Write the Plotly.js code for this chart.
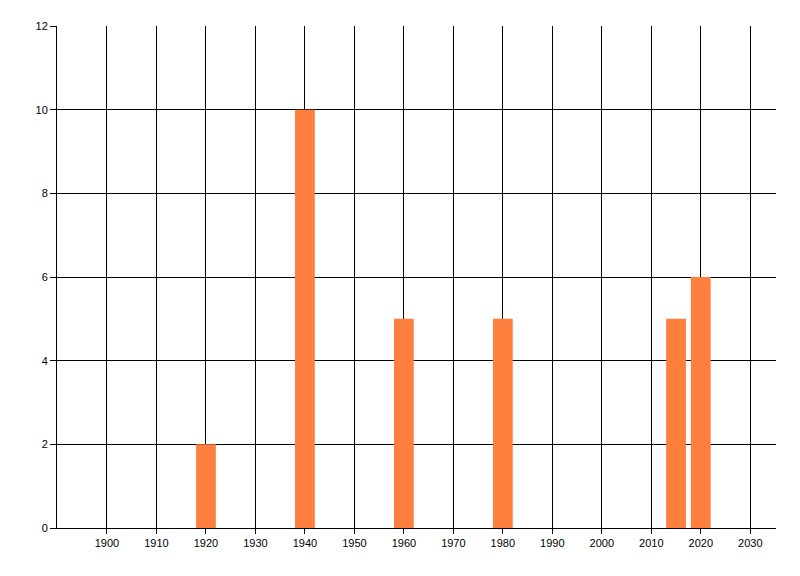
<!DOCTYPE html>
<html><head><meta charset="utf-8">
<script src="https://cdn.plot.ly/plotly-3.0.1.min.js"></script>
<style>html,body{margin:0;padding:0;background:#fff;}</style>
</head><body>
<div id="chart" style="width:800px;height:576px;"></div>
<script>
const years = [1920, 1940, 1960, 1980, 2015, 2020];
const counts = [2, 10, 5, 5, 5, 6];
const xTicks = [1900,1910,1920,1930,1940,1950,1960,1970,1980,1990,2000,2010,2020,2030];
const yTicks = [0,2,4,6,8,10,12];

Plotly.newPlot('chart', [{
  type: 'bar', x: years, y: counts, width: 4,
  marker: {color: '#FF7F3F', line: {width: 0}},
  hoverinfo: 'skip'
}], {
  width: 800, height: 576,
  margin: {l: 57, r: 24, t: 26, b: 48},
  paper_bgcolor: '#fff', plot_bgcolor: '#fff',
  showlegend: false,
  font: {family: 'Liberation Sans, Arial, sans-serif', size: 11, color: '#000'},
  xaxis: {
    range: [1889.9, 2035.2], tickvals: xTicks, ticktext: xTicks.map(String),
    tickfont: {color: '#000', size: 11},
    showgrid: true, gridcolor: '#000', gridwidth: 1,
    showline: true, linecolor: '#000', linewidth: 1,
    ticks: 'outside', ticklen: 5, tickcolor: '#000', zeroline: false
  },
  yaxis: {
    range: [0, 12], tickvals: yTicks, ticktext: yTicks.map(String),
    tickfont: {color: '#000', size: 11},
    showgrid: true, gridcolor: '#000', gridwidth: 1,
    showline: true, linecolor: '#000', linewidth: 1,
    ticks: 'outside', ticklen: 6, tickcolor: '#000', zeroline: false
  }
}, {displayModeBar: false, staticPlot: true});
</script>
</body></html>
